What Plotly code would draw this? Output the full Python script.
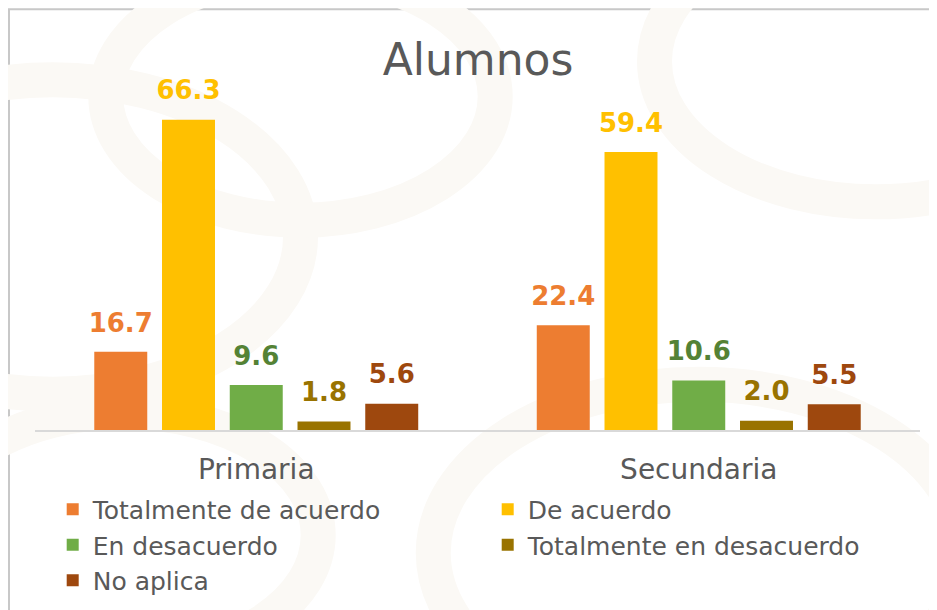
import plotly.graph_objects as go

# Data
categories = ["Primaria", "Secundaria"]
series_names = ["Totalmente de acuerdo", "De acuerdo", "En desacuerdo",
                "Totalmente en desacuerdo", "No aplica"]
tot_acuerdo = [16.7, 22.4]
de_acuerdo = [66.3, 59.4]
en_desacuerdo = [9.6, 10.6]
tot_desacuerdo = [1.8, 2.0]
no_aplica = [5.6, 5.5]

values = [tot_acuerdo, de_acuerdo, en_desacuerdo, tot_desacuerdo, no_aplica]
bar_colors = ["#ED7D31", "#FFC000", "#70AD47", "#997300", "#9E480E"]
label_colors = ["#ED7D31", "#FFC000", "#548235", "#997300", "#9E480E"]

FONT = "DejaVu Sans"
GRAY = "#595959"

fig = go.Figure()

for name, vals, bc, lc in zip(series_names, values, bar_colors, label_colors):
    fig.add_trace(go.Bar(
        x=categories,
        y=vals,
        name=name,
        marker=dict(color=bc, line=dict(width=0)),
        # big number on first line, small blank second line lifts it off the bar
        text=[f"<span style='font-size:26px'>{v:.1f}</span><br> " for v in vals],
        textposition="outside",
        constraintext="none",
        textfont=dict(family=FONT, size=11, color=lc, weight="bold"),
        cliponaxis=False,
    ))

# thin frame (only top/left edges fall inside the picture) + faint watermark swirls
shapes = [
    dict(type="rect", xref="paper", yref="paper", x0=-0.0294, x1=1.2, y0=-1.0, y1=1.199,
         line=dict(color="#c8c8c8", width=2), fillcolor="rgba(0,0,0,0)", layer="below"),
]
for (cx, cy, r) in [(0.02, 0.55, 0.28), (0.30, 0.95, 0.22), (0.95, 1.05, 0.25),
                    (0.75, -0.35, 0.3), (0.10, -0.30, 0.22)]:
    shapes.append(dict(type="circle", xref="paper", yref="paper",
                       x0=cx - r, x1=cx + r, y0=cy - r * 1.6, y1=cy + r * 1.6,
                       line=dict(color="#fbf9f5", width=35), fillcolor="rgba(0,0,0,0)",
                       layer="below"))

fig.update_layout(
    width=929,
    height=602,
    margin=dict(l=27, r=17, t=71, b=180, autoexpand=False),
    paper_bgcolor="white",
    plot_bgcolor="rgba(0,0,0,0)",
    barmode="group",
    bargap=0.2345,
    bargroupgap=0.218,
    title=dict(text="Alumnos", x=0.506, xanchor="center", y=0.915, yanchor="middle",
               font=dict(family=FONT, size=44, color=GRAY)),
    font=dict(family=FONT, color=GRAY),
    xaxis=dict(
        showline=True, linecolor="#d9d9d9", linewidth=2,
        ticks="", ticklabelstandoff=13,
        tickfont=dict(family=FONT, size=28, color=GRAY),
        showgrid=False,
    ),
    yaxis=dict(range=[0, 75], visible=False, showgrid=False),
    showlegend=True,
    legend=dict(
        orientation="h", x=0.02, xanchor="left", y=-0.161, yanchor="top",
        entrywidth=390, entrywidthmode="pixels",
        font=dict(family=FONT, size=25, color=GRAY),
        itemclick=False, tracegroupgap=0,
        bgcolor="rgba(0,0,0,0)",
    ),
    shapes=shapes,
)

fig.write_html("out.html")
